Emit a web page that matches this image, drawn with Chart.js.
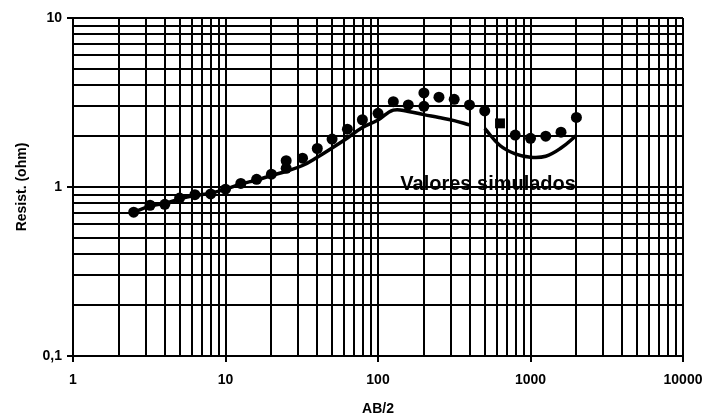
<!DOCTYPE html>
<html>
<head>
<meta charset="utf-8">
<script src="https://cdn.jsdelivr.net/npm/chart.js@4/dist/chart.umd.min.js"></script>
<style>
    html, body { margin: 0; padding: 0; background: #fff; }
    canvas { display: block; }
</style>
</head>
<body>
<canvas id="chart" width="708" height="416"></canvas>
<script>
// Measured apparent resistivity against AB/2
const abHalf = [2.5, 3.2, 4, 5, 6.3, 8, 10, 12.6, 16, 20, 25, 25, 32, 40, 50, 63, 79, 100,
                126, 158, 200, 200, 251, 316, 398, 501, 631, 794, 1000, 1259, 1585, 2000];
const measured = [0.71, 0.78, 0.79, 0.86, 0.9, 0.91, 0.97, 1.05, 1.11, 1.19, 1.43, 1.29, 1.48, 1.69, 1.92, 2.2, 2.5, 2.73,
                  3.2, 3.06, 3.6, 3.0, 3.4, 3.3, 3.06, 2.82, 2.38, 2.03, 1.94, 2.0, 2.11, 2.58];

// Simulated curve (two branches, the null leaves the gap)
const simX = [2.5, 3.2, 4, 5, 6.3, 8, 10, 12.6, 16, 20, 25, 32, 40, 50, 63, 79, 100, 126, 158, 200,
              251, 316, 398, 450, 501, 631, 794, 1000, 1259, 1585, 2000];
const simY = [0.71, 0.77, 0.8, 0.85, 0.89, 0.92, 0.97, 1.04, 1.1, 1.17, 1.24, 1.34, 1.5, 1.7, 1.95, 2.25, 2.49, 2.85, 2.8, 2.68,
              2.58, 2.47, 2.33, null, 2.22, 1.76, 1.57, 1.5, 1.52, 1.7, 2.02];

const simLabel = 'Valores simulados';

// Axis decades and their labels
const xDecades = [1, 10, 100, 1000, 10000];
const xLabels = ['1', '10', '100', '1000', '10000'];
const yDecades = [0.1, 1, 10];
const yLabels = ['0,1', '1', '10'];

const FONT = '"Liberation Sans", Arial, sans-serif';

// 1..9 grid lines in every decade
function logGrid(decades) {
    const vals = [];
    for (let i = 0; i < decades.length - 1; i++) {
        for (let k = 1; k <= 9; k++) vals.push(decades[i] * k);
    }
    vals.push(decades[decades.length - 1]);
    return vals.map(v => ({ value: v, major: decades.includes(v) }));
}

function labelFor(decades, labels) {
    return function(value) {
        const i = decades.indexOf(value);
        return i >= 0 ? labels[i] : '';
    };
}

const gridStyle = {
    color: '#000',
    lineWidth: 2,
    drawTicks: true,
    tickLength: 6,
    tickColor: ctx => (ctx.tick && ctx.tick.major) ? '#000' : 'rgba(0,0,0,0)'
};

// Free text label inside the plot
const simLabelPlugin = {
    id: 'simLabel',
    afterDatasetsDraw(chart) {
        const { ctx, scales: { x, y } } = chart;
        ctx.save();
        ctx.font = 'bold 20px ' + FONT;
        ctx.fillStyle = '#000';
        ctx.textBaseline = 'alphabetic';
        ctx.fillText(simLabel, x.getPixelForValue(140), y.getPixelForValue(0.955));
        ctx.restore();
    }
};

new Chart(document.getElementById('chart').getContext('2d'), {
    type: 'line',
    data: {
        datasets: [{
            label: simLabel,
            data: simX.map((x, i) => ({ x: x, y: simY[i] })),
            borderColor: '#000',
            borderWidth: 3.5,
            pointRadius: 0,
            tension: 0.4,
            spanGaps: false,
            fill: false
        }, {
            label: 'Medidos',
            data: abHalf.map((x, i) => ({ x: x, y: measured[i] })),
            showLine: false,
            pointRadius: ctx => abHalf[ctx.dataIndex] === 631 ? 7 : 5.5,
            pointStyle: ctx => abHalf[ctx.dataIndex] === 631 ? 'rect' : 'circle',
            pointBackgroundColor: '#000',
            pointBorderColor: '#000',
            pointBorderWidth: 0
        }]
    },
    options: {
        responsive: false,
        animation: false,
        layout: { padding: { top: 18, right: 25, left: 0, bottom: 0 } },
        scales: {
            x: {
                type: 'logarithmic',
                min: 1,
                max: 10000,
                afterBuildTicks: scale => { scale.ticks = logGrid(xDecades); },
                afterFit: scale => {
                    scale.height = 60;
                    scale.paddingLeft = 0;
                    scale.paddingRight = 0;
                },
                grid: gridStyle,
                border: { display: true, color: '#000', width: 2 },
                ticks: {
                    autoSkip: false,
                    maxRotation: 0,
                    padding: 10,
                    color: '#000',
                    font: { family: FONT, size: 14, weight: 'bold' },
                    callback: labelFor(xDecades, xLabels)
                },
                title: {
                    display: true,
                    text: 'AB/2',
                    color: '#000',
                    font: { family: FONT, size: 14, weight: 'bold', lineHeight: 1 },
                    padding: { top: 0, bottom: 0 }
                }
            },
            y: {
                type: 'logarithmic',
                min: 0.1,
                max: 10,
                afterBuildTicks: scale => { scale.ticks = logGrid(yDecades); },
                afterFit: scale => {
                    scale.width = 73;
                    scale.paddingTop = 0;
                    scale.paddingBottom = 0;
                },
                grid: gridStyle,
                border: { display: true, color: '#000', width: 2 },
                ticks: {
                    autoSkip: false,
                    padding: 5,
                    color: '#000',
                    font: { family: FONT, size: 14, weight: 'bold' },
                    callback: labelFor(yDecades, yLabels)
                },
                title: {
                    display: true,
                    text: 'Resist. (ohm)',
                    color: '#000',
                    font: { family: FONT, size: 14, weight: 'bold', lineHeight: 1 },
                    padding: { top: 15, bottom: 0 }
                }
            }
        },
        plugins: {
            legend: { display: false },
            tooltip: { enabled: false }
        }
    },
    plugins: [simLabelPlugin]
});
</script>
</body>
</html>
